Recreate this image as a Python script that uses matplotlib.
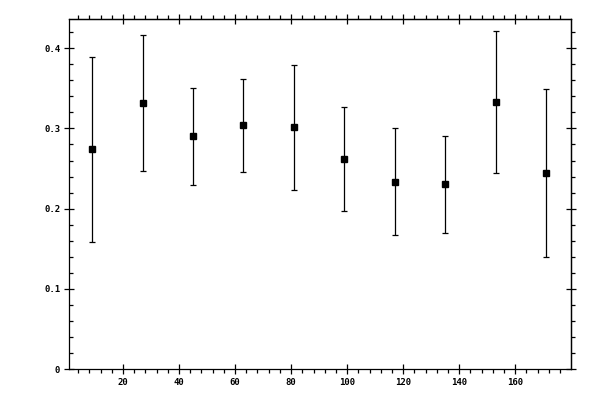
import matplotlib
matplotlib.use("Agg")
import matplotlib.pyplot as plt
from matplotlib.ticker import MultipleLocator, FuncFormatter, NullFormatter

# bin centres and measured values (symmetric errors)
x_centres = [9, 27, 45, 63, 81, 99, 117, 135, 153, 171]
y_mean = [0.274, 0.3315, 0.290, 0.304, 0.3015, 0.2617, 0.2337, 0.2306, 0.3327, 0.2442]
y_err = [0.1155, 0.0848, 0.0609, 0.0580, 0.0780, 0.0648, 0.0667, 0.0605, 0.0885, 0.1047]

fig = plt.figure(figsize=(6, 4), dpi=100)
ax = fig.add_axes([0.1155, 0.0768, 0.8355, 0.8752])

ax.errorbar(x_centres, y_mean, yerr=y_err, fmt="s", color="black",
            markersize=5, elinewidth=0.9, capsize=2.2, capthick=0.9)

ax.set_xlim(0.8, 179.8)
ax.set_ylim(0, 0.436)

lw = 0.9
tick_font = {"family": "DejaVu Sans Mono", "size": 6.5, "weight": "bold"}

for s in ax.spines.values():
    s.set_linewidth(lw)

ax.xaxis.set_major_locator(MultipleLocator(20))
ax.xaxis.set_minor_locator(MultipleLocator(4))
ax.yaxis.set_major_locator(MultipleLocator(0.1))
ax.yaxis.set_minor_locator(MultipleLocator(0.02))
ax.yaxis.set_major_formatter(FuncFormatter(lambda v, p: "%g" % round(v, 3)))

ax.tick_params(which="major", direction="inout", length=7, width=lw, pad=3)
ax.tick_params(axis="x", which="minor", direction="out", length=3, width=lw)
ax.tick_params(axis="y", which="minor", direction="in", length=3, width=lw)
for lab in ax.get_xticklabels() + ax.get_yticklabels():
    lab.set_fontfamily(tick_font["family"])
    lab.set_fontsize(tick_font["size"])
    lab.set_fontweight(tick_font["weight"])

# top and right ticks, no labels
top = ax.secondary_xaxis("top")
top.xaxis.set_major_locator(MultipleLocator(20))
top.xaxis.set_minor_locator(MultipleLocator(4))
top.xaxis.set_major_formatter(NullFormatter())
top.tick_params(which="major", direction="inout", length=7, width=lw)
top.tick_params(which="minor", direction="out", length=3, width=lw)

right = ax.secondary_yaxis("right")
right.yaxis.set_major_locator(MultipleLocator(0.1))
right.yaxis.set_minor_locator(MultipleLocator(0.02))
right.yaxis.set_major_formatter(NullFormatter())
right.tick_params(which="major", direction="inout", length=7, width=lw)
right.tick_params(which="minor", direction="out", length=3, width=lw)
for sec in (top, right):
    for s in sec.spines.values():
        s.set_linewidth(lw)

fig.savefig("out.png", dpi=100)
